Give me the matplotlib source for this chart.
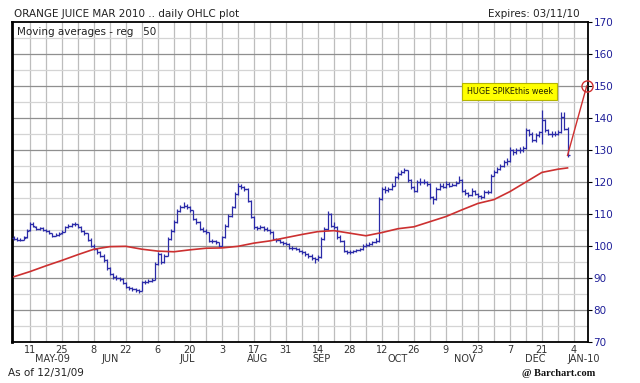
import numpy as np
import matplotlib
matplotlib.use("Agg")
import matplotlib.pyplot as plt

START = "2009-05-04"

opens = [
    102.5, 102.2, 102.0, 102.0, 102.8, 105.0, 107.0, 106.0, 105.4, 105.5,
    105.0, 104.8, 104.0, 103.2, 103.5, 104.0, 104.5, 105.8, 106.4, 106.8,
    106.9, 106.0, 104.8, 104.0, 102.0, 100.1, 99.0, 98.0, 97.0, 95.5,
    93.0, 91.3, 90.2, 90.0, 89.7, 88.5, 87.2, 86.8, 86.6, 86.2,
    86.0, 88.6, 88.8, 89.1, 89.5, 94.5, 97.6, 94.9, 97.0, 102.3,
    104.8, 107.4, 111.0, 112.2, 112.6, 112.1, 111.1, 108.5, 107.5, 105.4,
    104.8, 104.3, 101.7, 101.5, 101.2, 100.1, 102.7, 106.4, 109.5, 112.1,
    116.3, 118.9, 118.5, 117.9, 114.2, 109.0, 105.8, 105.5, 105.8, 105.4,
    105.0, 104.3, 102.2, 101.8, 101.2, 100.9, 100.7, 99.5, 99.3, 99.1,
    98.5, 98.0, 97.5, 97.0, 96.2, 95.9, 96.6, 102.2, 105.3, 110.0,
    106.4, 105.8, 102.7, 101.7, 98.5, 98.0, 98.2, 98.5, 98.8, 99.0,
    100.1, 100.4, 100.6, 101.2, 101.7, 114.7, 117.9, 117.5, 117.9, 118.9,
    121.5, 122.6, 123.1, 123.6, 120.5, 118.4, 117.3, 119.9, 119.9, 120.0,
    119.4, 115.2, 114.7, 117.9, 118.9, 118.5, 119.4, 118.9, 119.0, 119.8,
    120.5, 117.3, 116.5, 115.8, 117.3, 116.3, 115.7, 115.2, 116.8, 116.8,
    122.0, 123.1, 124.1, 125.0, 126.2, 126.7, 129.9, 129.5, 129.9, 129.9,
    130.5, 136.1, 135.1, 133.0, 134.6, 135.5, 139.3, 136.1, 135.1, 135.0,
    135.1, 135.6, 140.3, 136.7,
]
highs = [
    103.0, 102.8, 102.6, 103.2, 105.2, 107.6, 107.4, 106.4, 106.0, 105.8,
    105.4, 105.0, 104.2, 104.0, 104.4, 105.0, 106.2, 106.8, 107.2, 107.4,
    107.0, 106.2, 105.0, 104.2, 102.4, 100.6, 99.4, 98.4, 97.4, 95.8,
    93.4, 91.6, 90.8, 90.4, 90.0, 88.8, 87.6, 87.2, 87.0, 86.6,
    89.0, 89.4, 89.6, 90.0, 95.0, 98.2, 97.8, 97.4, 102.8, 105.4,
    108.0, 111.6, 112.8, 113.6, 113.0, 112.4, 111.4, 108.8, 107.8, 105.8,
    105.2, 104.5, 102.2, 101.8, 101.4, 103.2, 106.8, 110.0, 112.6, 116.8,
    119.6, 119.4, 118.8, 118.2, 114.5, 109.4, 106.4, 106.6, 106.4, 106.0,
    105.4, 104.6, 102.6, 102.2, 101.6, 101.4, 101.0, 99.9, 99.8, 99.4,
    98.8, 98.4, 97.8, 97.4, 96.6, 97.2, 102.8, 106.0, 111.0, 110.4,
    107.6, 106.2, 103.4, 102.0, 98.8, 98.6, 98.9, 99.2, 99.5, 100.6,
    100.9, 101.2, 101.6, 102.4, 115.2, 118.4, 118.6, 118.4, 119.6, 122.0,
    123.2, 123.8, 124.4, 123.8, 121.0, 118.8, 120.6, 121.2, 120.8, 120.4,
    119.6, 115.6, 118.4, 119.6, 119.6, 120.4, 120.0, 119.8, 120.4, 121.8,
    120.8, 117.8, 116.9, 118.0, 117.6, 116.6, 116.0, 117.4, 117.6, 122.6,
    123.8, 124.8, 125.6, 126.8, 127.4, 130.8, 130.4, 130.6, 130.8, 131.2,
    137.0, 136.6, 135.6, 135.2, 136.0, 142.4, 139.6, 136.6, 135.8, 135.8,
    136.2, 142.0, 141.8, 137.2,
]
lows = [
    101.8, 101.6, 101.5, 101.8, 102.5, 104.8, 105.8, 105.0, 105.0, 104.6,
    104.4, 103.6, 102.8, 103.0, 103.2, 103.8, 104.4, 105.5, 106.0, 106.2,
    105.6, 104.5, 103.5, 101.6, 99.6, 98.6, 97.5, 96.5, 95.0, 92.5,
    90.8, 89.8, 89.5, 89.2, 88.0, 86.8, 86.4, 86.0, 85.6, 85.2,
    85.8, 88.2, 88.4, 88.8, 89.4, 94.2, 94.4, 94.6, 96.8, 102.0,
    104.5, 107.2, 110.6, 111.8, 111.5, 110.6, 108.0, 107.0, 105.0, 104.4,
    103.8, 101.2, 101.0, 100.6, 99.6, 99.8, 102.4, 106.0, 109.2, 111.8,
    116.0, 117.8, 117.2, 113.8, 108.6, 105.4, 105.0, 105.2, 104.8, 104.6,
    103.8, 101.8, 101.4, 100.8, 100.4, 100.2, 99.0, 98.8, 98.6, 98.0,
    97.5, 97.0, 96.4, 95.6, 94.8, 95.4, 96.4, 102.0, 105.0, 105.8,
    105.2, 102.2, 101.2, 98.0, 97.4, 97.6, 97.8, 98.2, 98.4, 98.8,
    99.8, 100.0, 100.2, 100.8, 101.4, 114.4, 116.6, 117.0, 117.6, 118.6,
    121.0, 122.2, 122.8, 120.0, 117.8, 116.8, 117.0, 119.2, 119.4, 118.8,
    114.6, 113.2, 114.4, 117.6, 118.0, 118.2, 118.4, 118.6, 118.8, 119.6,
    116.8, 116.0, 115.2, 115.6, 115.8, 115.0, 114.6, 115.0, 116.2, 116.6,
    121.8, 122.8, 123.8, 124.6, 125.2, 126.4, 128.4, 128.6, 129.0, 129.4,
    130.2, 134.4, 132.4, 132.6, 134.0, 132.0, 135.6, 134.6, 134.2, 134.4,
    134.6, 135.2, 136.2, 127.8,
]
closes = [
    102.2, 102.0, 102.0, 102.5, 104.8, 107.0, 106.2, 105.4, 105.5, 105.1,
    104.8, 104.0, 103.2, 103.5, 103.9, 104.5, 105.8, 106.4, 106.8, 106.9,
    106.0, 104.8, 104.0, 102.0, 100.1, 99.0, 98.0, 97.0, 95.5, 93.0,
    91.3, 90.2, 90.0, 89.7, 88.5, 87.2, 86.8, 86.6, 86.2, 86.0,
    88.6, 88.8, 89.1, 89.5, 94.5, 97.6, 94.9, 97.0, 102.3, 104.8,
    107.4, 111.0, 112.2, 112.6, 112.1, 111.1, 108.5, 107.5, 105.4, 104.8,
    104.3, 101.7, 101.5, 101.2, 100.1, 102.7, 106.4, 109.5, 112.1, 116.3,
    118.9, 118.5, 117.9, 114.2, 109.0, 105.8, 105.5, 105.8, 105.4, 105.0,
    104.3, 102.2, 101.8, 101.2, 100.9, 100.7, 99.5, 99.3, 99.1, 98.5,
    98.0, 97.5, 97.0, 96.2, 95.9, 96.6, 102.2, 105.3, 110.0, 106.4,
    105.8, 102.7, 101.7, 98.5, 98.0, 98.2, 98.5, 98.8, 99.0, 100.1,
    100.4, 100.6, 101.2, 101.7, 114.7, 117.9, 117.5, 117.9, 118.9, 121.5,
    122.6, 123.1, 123.6, 120.5, 118.4, 117.3, 119.9, 119.9, 120.0, 119.4,
    115.2, 114.7, 117.9, 118.9, 118.5, 119.4, 118.9, 119.0, 119.8, 120.5,
    117.3, 116.5, 115.8, 117.3, 116.3, 115.7, 115.2, 116.8, 116.8, 122.0,
    123.1, 124.1, 125.0, 126.2, 126.7, 129.9, 129.5, 129.9, 129.9, 130.5,
    136.1, 135.1, 133.0, 134.6, 135.5, 139.3, 136.1, 135.1, 135.0, 135.1,
    135.6, 140.3, 136.7, 128.3,
]

# 50-day moving average, read weekly
ma_dates = [
    "2009-05-04", "2009-05-11", "2009-05-18", "2009-05-25", "2009-06-01",
    "2009-06-08", "2009-06-15", "2009-06-22", "2009-06-29", "2009-07-06",
    "2009-07-13", "2009-07-20", "2009-07-27", "2009-08-03", "2009-08-10",
    "2009-08-17", "2009-08-24", "2009-08-31", "2009-09-07", "2009-09-14",
    "2009-09-21", "2009-09-28", "2009-10-05", "2009-10-12", "2009-10-19",
    "2009-10-26", "2009-11-02", "2009-11-09", "2009-11-16", "2009-11-23",
    "2009-11-30", "2009-12-07", "2009-12-14", "2009-12-21", "2009-12-28",
    "2009-12-31",
]
ma_values = [
    90.4, 92.0, 93.8, 95.5, 97.3, 99.0, 99.8, 99.9, 99.0, 98.4,
    98.2, 98.8, 99.3, 99.4, 99.9, 100.9, 101.6, 102.6, 103.6, 104.5,
    104.8, 104.0, 103.2, 104.2, 105.4, 106.0, 107.6, 109.2, 111.3, 113.3,
    114.5, 117.0, 120.0, 123.0, 124.0, 124.4,
]

# hand-drawn spike annotation
spike_dates = ["2009-12-31", "2010-01-08"]
spike_values = [128.3, 150.0]
note_text = "HUGE SPIKEthis week"
note_date = "2009-12-07"
note_value = 148.3

tick_dates = [
    "2009-05-11", "2009-05-25", "2009-06-08", "2009-06-22", "2009-07-06",
    "2009-07-20", "2009-08-03", "2009-08-17", "2009-08-31", "2009-09-14",
    "2009-09-28", "2009-10-12", "2009-10-26", "2009-11-09", "2009-11-23",
    "2009-12-07", "2009-12-21", "2010-01-04",
]
tick_labels = ["11", "25", "8", "22", "6", "20", "3", "17", "31", "14",
               "28", "12", "26", "9", "23", "7", "21", "4"]
month_labels = ["MAY-09", "JUN", "JUL", "AUG", "SEP", "OCT", "NOV", "DEC", "JAN-10"]
month_dates = ["2009-05-20", "2009-06-15", "2009-07-17", "2009-08-18", "2009-09-15",
               "2009-10-19", "2009-11-17", "2009-12-17", "2010-01-07"]


def bx(dates):
    return np.busday_count(START, np.array(dates, dtype="datetime64[D]")).astype(float)


plt.rcParams['font.family'] = ['DejaVu Sans']
fig = plt.figure(figsize=(6.4, 3.83), dpi=100)
ax = fig.add_axes([12 / 640, 1 - 342 / 383, 576 / 640, 320 / 383])

n = len(closes)
x = np.arange(n, dtype=float)
bar_col = "#2b2ba8"

# grid
week_x = bx(np.arange(np.datetime64("2009-05-11"), np.datetime64("2010-01-12"), 7))
for wx in week_x:
    ax.axvline(wx, color="#bdbdbd", lw=0.9, zorder=0)
for yv in range(75, 170, 5):
    ax.axhline(yv, color="#8f8f8f" if yv % 10 == 0 else "#d4d4d4", lw=0.9, zorder=0)

# OHLC bars
ax.vlines(x, lows, highs, color=bar_col, lw=0.9, zorder=3)
ax.hlines(opens, x - 0.7, x, color=bar_col, lw=0.9, zorder=3)
ax.hlines(closes, x, x + 0.7, color=bar_col, lw=0.9, zorder=3)

# moving average
ax.plot(bx(ma_dates), ma_values, color="#cc3030", lw=1.2, zorder=4)

# spike line & circle
sx = bx(spike_dates)
ax.plot(sx, spike_values, color="#d03030", lw=1.0, zorder=5)
ax.plot(sx[-1:], spike_values[-1:], marker="o", ms=8, mfc="none", mec="#d03030",
        mew=1.0, zorder=6, clip_on=False)

ax.set_xlim(-0.6, 179.4)
ax.set_ylim(70, 170)

# annotation box
ax.text(bx([note_date])[0], note_value, note_text, fontsize=5.8, color="#222200",
        ha="center", va="center", zorder=7,
        bbox=dict(boxstyle="square,pad=0.55", fc="#ffff00", ec="#b5b500", lw=0.8))

# axes styling
for s in ax.spines.values():
    s.set_color("black")
    s.set_linewidth(1.3)
ax.spines["left"].set_linewidth(2.0)

ax.yaxis.tick_right()
ax.set_yticks(range(70, 171, 10))
ax.tick_params(axis="y", direction="out", length=3, width=0.8, colors="#1f1f99",
               labelsize=7.5, pad=1)
ax.tick_params(axis="y", color="black")
ax.set_xticks(bx(tick_dates))
ax.set_xticklabels(tick_labels)
ax.tick_params(axis="x", length=0, labelsize=7, colors="#333333", pad=2)

for lbl, d in zip(month_labels, month_dates):
    ax.text(bx([d])[0], -0.036, lbl, transform=ax.get_xaxis_transform(), ha="center",
            va="top", fontsize=7, color="#333333", clip_on=False)

# texts
ax.text(0.009, 0.985, "Moving averages - reg   50", transform=ax.transAxes, ha="left",
        va="top", fontsize=7.5, color="#222222")
fig.text(14 / 640, 1 - 14 / 383, "ORANGE JUICE MAR 2010 .. daily OHLC plot", ha="left",
         va="center", fontsize=7.5, color="#222222")
fig.text(580 / 640, 1 - 14 / 383, "Expires: 03/11/10", ha="right", va="center",
         fontsize=7.5, color="#222222")
fig.text(8 / 640, 1 - 373 / 383, "As of 12/31/09", ha="left", va="center",
         fontsize=7.5, color="#222222")
fig.text(595 / 640, 1 - 374 / 383, "@ Barchart.com", ha="right", va="center",
         fontsize=7.5, color="#111111", family="Liberation Serif", weight="bold")

fig.savefig("out.png", dpi=100)
